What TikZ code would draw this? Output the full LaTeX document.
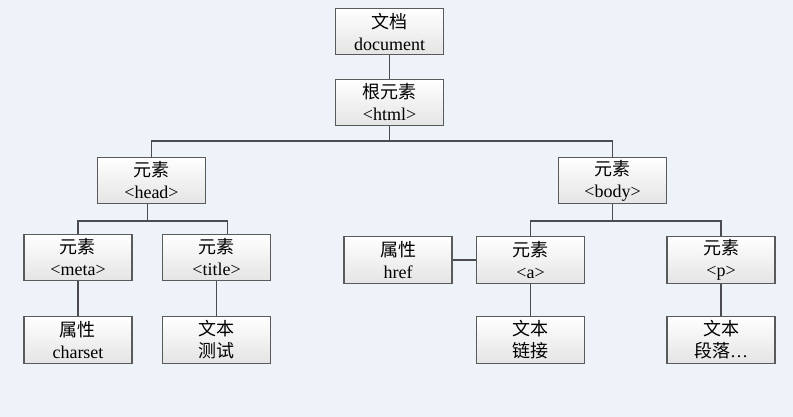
\documentclass[tikz,border=0pt]{standalone}
\usepackage{fontspec}
\setmainfont{Liberation Serif}
\newfontfamily\cjk{Noto Sans CJK SC}
\newcommand{\zh}[1]{{\cjk #1}}
\definecolor{paper}{RGB}{238,243,250}
\definecolor{boxline}{RGB}{90,90,90}
\definecolor{boxfoot}{RGB}{228,228,228}
\definecolor{linkc}{RGB}{75,75,80}
\begin{document}
\begin{tikzpicture}[x=0.75pt,y=-0.75pt,
	box/.style={draw=boxline, line width=0.9pt, top color=white, bottom color=boxfoot,
		minimum width=81pt, minimum height=35pt, inner sep=0pt, align=center,
		font=\fontsize{13.5}{16.5}\selectfont},
	link/.style={draw=linkc, line width=0.9pt}]
	\fill[paper] (0,0) rectangle (793,417);
	\useasboundingbox (0,0) rectangle (793,417);
	% tree
	\node[box] (doc) at (389.5,31.5) {\zh{文档}\\document};
	\node[box] (html) at (389.5,102.5) {\zh{根元素}\\<html>};
	\node[box] (head) at (151.5,180.5) {\zh{元素}\\<head>};
	\node[box] (body) at (612.5,180.5) {\zh{元素}\\<body>};
	\node[box] (meta) at (78,257.5) {\zh{元素}\\<meta>};
	\node[box] (title) at (216.5,257.5) {\zh{元素}\\<title>};
	\node[box] (charset) at (78,340) {\zh{属性}\\charset};
	\node[box] (ceshi) at (216.5,340) {\zh{文本}\\\zh{测试}};
	\node[box] (href) at (398,260) {\zh{属性}\\href};
	\node[box] (a) at (530.5,260) {\zh{元素}\\<a>};
	\node[box] (p) at (721,260) {\zh{元素}\\<p>};
	\node[box] (lianjie) at (530.5,340) {\zh{文本}\\\zh{链接}};
	\node[box] (duanluo) at (721,340) {\zh{文本}\\\zh{段落}…};
	% joints
	\coordinate (j1) at (389.5,141);
	\coordinate (j2) at (147.5,221);
	\coordinate (j3) at (612.5,221);
	\draw[link] (doc) -- (html);
	\draw[link] (html) -- (j1);
	\draw[link] (head.north) |- (j1) -| (body.north);
	\draw[link] (head.south -| j2) -- (j2);
	\draw[link] (meta.north) |- (j2) -| ([xshift=8pt]title.north);
	\draw[link] (body) -- (j3);
	\draw[link] (a.north) |- (j3) -| (p.north);
	\draw[link] (href) -- (a);
	\draw[link] (meta) -- (charset);
	\draw[link] (title) -- (ceshi);
	\draw[link] (a) -- (lianjie);
	\draw[link] (p) -- (duanluo);
\end{tikzpicture}
\end{document}
